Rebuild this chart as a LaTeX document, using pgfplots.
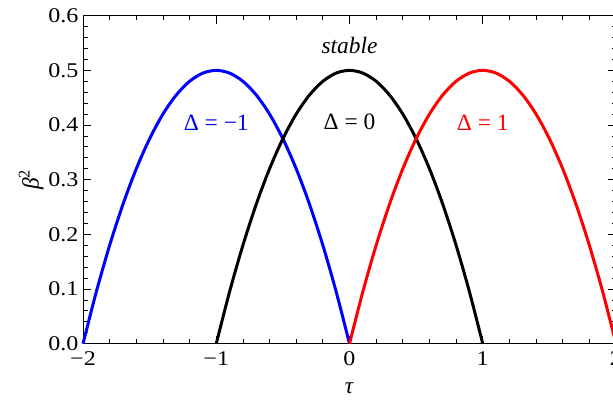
\documentclass[border=0pt]{standalone}
\usepackage{fontspec}
\setmainfont{Liberation Serif}
\newfontfamily\tickfont[FakeStretch=1.15]{Liberation Serif}
\usepackage{pgfplots}
\pgfplotsset{compat=1.18}
\begin{document}
\begin{tikzpicture}
\begin{axis}[
  scale only axis,
  width=533bp, height=328bp,
  xmin=-2, xmax=2, ymin=0, ymax=0.6,
  xtick={-2,-1,0,1,2},
  xticklabels={−2,−1,0,1,2},
  ytick={0,0.1,0.2,0.3,0.4,0.5,0.6},
  yticklabels={0.0,0.1,0.2,0.3,0.4,0.5,0.6},
  minor x tick num=4, minor y tick num=4,
  tick align=inside, tick pos=both,
  xticklabel pos=lower, yticklabel pos=left,
  major tick length=8bp, minor tick length=4.5bp,
  every tick/.style={black, line width=0.8bp},
  axis line style={line width=0.9bp},
  font=\fontsize{23.5}{27}\selectfont,
  tick label style={font=\tickfont\fontsize{21}{24}\selectfont},
  xticklabel style={yshift=-4bp},
  yticklabel style={xshift=-1bp},
  xlabel={\textit{τ}}, ylabel={\textit{β}\textsuperscript{2}},
  xlabel style={yshift=-11bp},
  ylabel style={yshift=-2bp},
  clip=false,
]
\addplot[blue, line width=3bp, smooth] coordinates {
(-2.0,0) (-1.9,0.095) (-1.8,0.18) (-1.7,0.255) (-1.6,0.32) (-1.5,0.375) (-1.4,0.42) (-1.3,0.455) (-1.2,0.48) (-1.1,0.495) (-1.0,0.5)
(-0.9,0.495) (-0.8,0.48) (-0.7,0.455) (-0.6,0.42) (-0.5,0.375) (-0.4,0.32) (-0.3,0.255) (-0.2,0.18) (-0.1,0.095) (0.0,0)};
\addplot[black, line width=3bp, smooth] coordinates {
(-1.0,0) (-0.9,0.095) (-0.8,0.18) (-0.7,0.255) (-0.6,0.32) (-0.5,0.375) (-0.4,0.42) (-0.3,0.455) (-0.2,0.48) (-0.1,0.495) (0.0,0.5)
(0.1,0.495) (0.2,0.48) (0.3,0.455) (0.4,0.42) (0.5,0.375) (0.6,0.32) (0.7,0.255) (0.8,0.18) (0.9,0.095) (1.0,0)};
\addplot[red, line width=3bp, smooth] coordinates {
(0.0,0) (0.1,0.095) (0.2,0.18) (0.3,0.255) (0.4,0.32) (0.5,0.375) (0.6,0.42) (0.7,0.455) (0.8,0.48) (0.9,0.495) (1.0,0.5)
(1.1,0.495) (1.2,0.48) (1.3,0.455) (1.4,0.42) (1.5,0.375) (1.6,0.32) (1.7,0.255) (1.8,0.18) (1.9,0.095) (2.0,0)};
\node[blue] at (axis cs:-1,0.405) {Δ = −1};
\node[black] at (axis cs:0,0.405) {Δ = 0};
\node[red] at (axis cs:1,0.405) {Δ = 1};
\node at (axis cs:0,0.545) {\textit{stable}};
\coordinate (bl) at (rel axis cs:0,0);
\coordinate (tr) at (rel axis cs:1,1);
\end{axis}
\pgfresetboundingbox
\path[use as bounding box] ([xshift=-83bp,yshift=-56bp]bl) rectangle ([xshift=-3bp,yshift=15.7bp]tr);
\end{tikzpicture}
\end{document}
